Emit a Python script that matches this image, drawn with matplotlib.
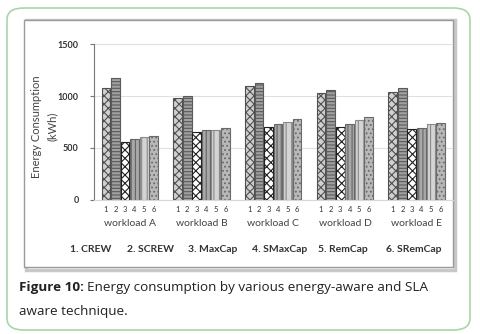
import matplotlib
matplotlib.use("Agg")
from matplotlib import pyplot as plt
from matplotlib.patches import FancyBboxPatch, Rectangle
import numpy as np

workloads = ["workload A", "workload B", "workload C", "workload D", "workload E"]
techniques = ["1. CREW", "2. SCREW", "3. MaxCap", "4. SMaxCap", "5. RemCap", "6. SRemCap"]
bar_labels = ["1", "2", "3", "4", "5", "6"]

crew = [1080, 980, 1100, 1030, 1040]
screw = [1175, 1003, 1122, 1060, 1080]
maxcap = [560, 655, 700, 700, 683]
smaxcap = [583, 673, 730, 735, 695]
remcap = [603, 676, 753, 772, 731]
sremcap = [619, 695, 776, 795, 740]

series = [crew, screw, maxcap, smaxcap, remcap, sremcap]
styles = [
    dict(facecolor="#d0d0d0", edgecolor="#505050", hatch="xxxx"),
    dict(facecolor="#a0a0a0", edgecolor="#5a5a5a", hatch="-----"),
    dict(facecolor="#ffffff", edgecolor="#202020", hatch="xxxx"),
    dict(facecolor="#a8a8a8", edgecolor="#666666", hatch="||||"),
    dict(facecolor="#d4d4d4", edgecolor="#8a8a8a", hatch="|||"),
    dict(facecolor="#b8b8b8", edgecolor="#6a6a6a", hatch="...."),
]

plt.rcParams["hatch.linewidth"] = 0.8
fig = plt.figure(figsize=(4.8, 3.34), dpi=100)

# outer green rounded frame
fig.patches.append(FancyBboxPatch((7 / 480, 4 / 334), 463 / 480, 322 / 334,
                                  boxstyle="round,pad=0,rounding_size=0.035",
                                  transform=fig.transFigure, fill=False,
                                  edgecolor="#a9d5a9", linewidth=1.2, zorder=-2))
# inner gray chart frame with shadow
fig.patches.append(Rectangle((26 / 480, 64 / 334), 429 / 480, 250 / 334,
                             transform=fig.transFigure, fill=False,
                             edgecolor="#c8c8c8", linewidth=2.5, zorder=-2))
fig.patches.append(Rectangle((24 / 480, 67 / 334), 429 / 480, 247 / 334,
                             transform=fig.transFigure, facecolor="white",
                             edgecolor="#9a9a9a", linewidth=1.0, zorder=-1))

ax = fig.add_axes([94 / 480, 1 - 200 / 334, 358.5 / 480, 156 / 334])
ax.patch.set_alpha(0)
x = np.arange(len(workloads))
w = 0.133
for i, vals in enumerate(series):
    ax.bar(x + (i - 2.5) * w, vals, width=w * 0.92, linewidth=0.8, **styles[i])

ax.set_xlim(-0.5, 4.5)
ax.set_ylim(0, 1500)
ax.set_yticks([0, 500, 1000, 1500])
ax.set_yticklabels(["0", "500", "1000", "1500"], fontsize=6.5, color="#333333",
                   fontweight="bold", family="Lato")
ax.yaxis.grid(True, color="#e0e0e0", linewidth=0.8)
ax.set_axisbelow(True)
for s in ["top", "right"]:
    ax.spines[s].set_visible(False)
ax.spines["left"].set_color("#777777")
ax.spines["bottom"].set_color("#d8d8d8")
ax.tick_params(axis="y", length=3, color="#777777", pad=8)

pos = [g + (i - 2.5) * w for g in x for i in range(6)]
ax.set_xticks(pos)
ax.set_xticklabels(bar_labels * len(workloads), fontsize=5.5, color="#333333", family="Lato")
ax.tick_params(axis="x", length=0, pad=4)
for g, name in zip(x, workloads):
    ax.text(g, -0.15, name, transform=ax.get_xaxis_transform(), ha="center", va="center",
            fontsize=7.5, color="#444444", family="Lato")

ax.set_ylabel("Energy Consumption\n(kWh)", fontsize=8, color="#444444", family="Lato",
              linespacing=1.5, va="center")
ax.yaxis.set_label_coords(-0.138, 0.47)

leg_x = [70, 127, 188, 252, 318, 386]
for lx, name in zip(leg_x, techniques):
    fig.text(lx / 480, 1 - 250 / 334, name, fontsize=7.5, fontweight="bold",
             color="#333333", family="Lato", va="center")

t1 = fig.text(19 / 480, 1 - 288 / 334, "Figure 10:", fontsize=9.7, fontweight="bold",
              family="Open Sans", color="#222222", va="center")
fig.canvas.draw()
bb = t1.get_window_extent()
fig.text(bb.x1 / 480 + 3 / 480, 1 - 288 / 334,
         "Energy consumption by various energy-aware and SLA", fontsize=9.7,
         family="Open Sans", color="#222222", va="center")
fig.text(19 / 480, 1 - 311 / 334, "aware technique.", fontsize=9.7,
         family="Open Sans", color="#222222", va="center")

fig.savefig("out.png", dpi=100)
